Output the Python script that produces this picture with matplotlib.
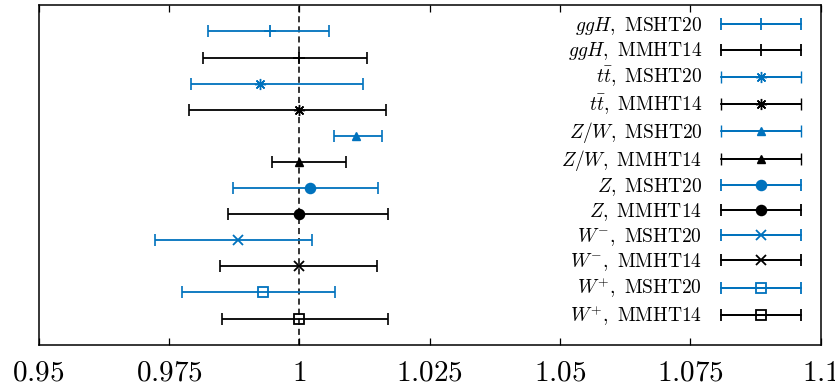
import numpy as np
import matplotlib
matplotlib.use("Agg")
import matplotlib.pyplot as plt
from matplotlib.container import ErrorbarContainer
from matplotlib.legend_handler import HandlerErrorbar
from matplotlib.ticker import FuncFormatter

plt.rcParams["mathtext.fontset"] = "cm"

# rows top to bottom
labels = [
    r"$ggH,\ \mathrm{MSHT20}$", r"$ggH,\ \mathrm{MMHT14}$",
    r"$t\bar{t},\ \mathrm{MSHT20}$", r"$t\bar{t},\ \mathrm{MMHT14}$",
    r"$Z/W,\ \mathrm{MSHT20}$", r"$Z/W,\ \mathrm{MMHT14}$",
    r"$Z,\ \mathrm{MSHT20}$", r"$Z,\ \mathrm{MMHT14}$",
    r"$W^{-},\ \mathrm{MSHT20}$", r"$W^{-},\ \mathrm{MMHT14}$",
    r"$W^{+},\ \mathrm{MSHT20}$", r"$W^{+},\ \mathrm{MMHT14}$",
]
centre = [0.99444, 1.0, 0.99247, 1.0, 1.0109, 1.0, 1.00196, 1.0, 0.98832, 1.0, 0.99305, 1.0]
lower = [0.98245, 0.98149, 0.97914, 0.97875, 1.00669, 0.99477, 0.98736, 0.98635, 0.97225, 0.98482, 0.97755, 0.98520]
upper = [1.00560, 1.01306, 1.01229, 1.01658, 1.01587, 1.00892, 1.01505, 1.01707, 1.00234, 1.01491, 1.00682, 1.01696]
markers = ["+", "+", (8, 2, 0), (8, 2, 0), "^", "^", "o", "o", "x", "x", "s", "s"]
xticks = [0.95, 0.975, 1.0, 1.025, 1.05, 1.075, 1.1]

BLUE = "#0072BD"
BLACK = "#000000"

fig = plt.figure(figsize=(8.35, 3.88), dpi=100)
ax = fig.add_axes([0.0463, 0.1116, 0.9367, 0.8747])

ax.axvline(1.0, color="k", lw=1.1, ls=(0, (4, 2.6)), zorder=1)


def marker_style(m):
    if m in ("o", "s"):
        ms, mew = 7, 1.3
    elif m == "^":
        ms, mew = 6, 1.0
    elif m == "x":
        ms, mew = 7.5, 1.3
    elif m == "+":
        ms, mew = 8, 1.3
    else:
        ms, mew = 8, 1.0
    return dict(markersize=ms, markeredgewidth=mew)


ypos = np.arange(len(labels), 0, -1)
handles = []
for i, lab in enumerate(labels):
    c = BLUE if i % 2 == 0 else BLACK
    m = markers[i]
    filled = m in ("^", "o")
    st = marker_style(m)
    xerr = [[centre[i] - lower[i]], [upper[i] - centre[i]]]
    ax.errorbar([centre[i]], [ypos[i]], xerr=xerr, fmt="none", color=c,
                ecolor=c, elinewidth=1.3, capsize=4, capthick=1.2, zorder=2)
    ax.plot([centre[i]], [ypos[i]], ls="none", marker=m, color=c,
            mfc=c if filled else "none", mec=c, zorder=3, **st)
    # legend proxy with the same style
    hp = ax.errorbar([np.nan], [np.nan], xerr=[[0.01], [0.01]], ls="-", marker=m,
                     color=c, ecolor=c, lw=1.3, elinewidth=1.3, capsize=4,
                     capthick=1.2, mfc=c if filled else "none", mec=c, **st)
    handles.append(hp)

ax.set_xlim(0.95, 1.1)
ax.set_ylim(0, len(labels) + 1)
ax.set_yticks([])
ax.set_xticks(xticks)
ax.xaxis.set_major_formatter(FuncFormatter(lambda v, p: f"${v:g}$"))
ax.tick_params(axis="x", direction="in", top=True, length=5, width=0.9,
               labelsize=21, pad=10)
for s in ax.spines.values():
    s.set_linewidth(1.1)

ax.legend(handles=handles, labels=labels, loc="center right",
          bbox_to_anchor=(0.985, 0.51), frameon=False, markerfirst=False,
          fontsize=14, handlelength=4.11, handletextpad=0.98,
          labelspacing=0.16, borderaxespad=0.0,
          handler_map={ErrorbarContainer: HandlerErrorbar(xerr_size=2.057)})

fig.savefig("out.png", dpi=100)
